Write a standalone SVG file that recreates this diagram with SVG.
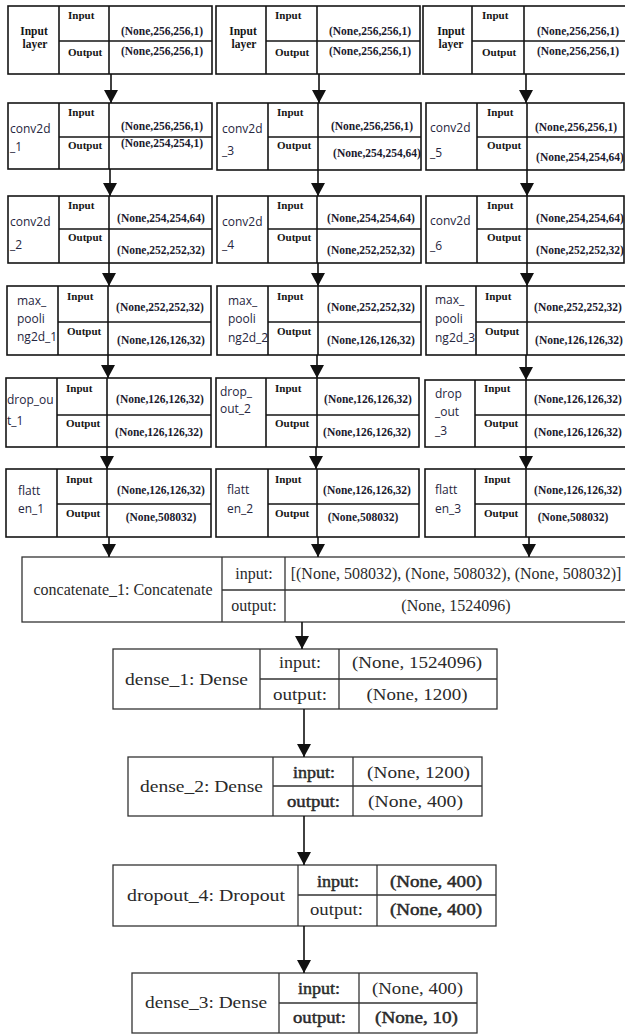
<svg xmlns="http://www.w3.org/2000/svg" width="625" height="1034" viewBox="0 0 625 1034">
  <defs>
    <marker id="ah" viewBox="0 0 13 14" markerWidth="13" markerHeight="14" refX="13" refY="7" orient="auto" markerUnits="userSpaceOnUse">
      <path d="M0,0 L13,7 L0,14 z" fill="#111"/>
    </marker>
    <style>
      .box { fill: #fff; stroke: #151515; stroke-width: 1.6; }
      .ln { stroke: #151515; stroke-width: 1.6; }
      .lab { font-family: "Liberation Serif", serif; font-weight: bold; font-size: 11px; fill: #151515; }
      .ttl { font-family: "Liberation Serif", serif; font-weight: bold; font-size: 11.5px; fill: #151515; text-anchor: middle; }
      .val { font-family: "Liberation Serif", serif; font-weight: bold; font-size: 11.5px; fill: #1a1a2e; text-anchor: middle; }
      .nm { font-family: "Open Sans", sans-serif; font-size: 12px; fill: #262640; }
      .bbox { fill: #fff; stroke: #333; stroke-width: 1.3; }
      .bln { stroke: #333; stroke-width: 1.3; }
      .big { font-family: "Liberation Serif", "Times New Roman", serif; font-size: 16px; fill: #2a2a2a; text-anchor: middle; }
      .semi { stroke: #2a2a2a; stroke-width: 0.45; }
      .conn { stroke: #111; stroke-width: 1.6; fill: none; marker-end: url(#ah); }
    </style>
  </defs>
  <rect width="625" height="1034" fill="#fff"/>

  <!-- ===== branch 1 ===== -->
  <g id="input_layer_1">
    <rect class="box" x="8" y="6" width="204" height="68"/>
    <line class="ln" x1="59" y1="6" x2="59" y2="74"/><line class="ln" x1="109" y1="6" x2="109" y2="74"/><line class="ln" x1="59" y1="41" x2="212" y2="41"/>
    <text class="ttl" x="34" y="35">Input</text><text class="ttl" x="35" y="48">layer</text>
    <text class="lab" x="68" y="19">Input</text><text class="lab" x="68" y="56">Output</text>
    <text class="val" x="162" y="35">(None,256,256,1)</text><text class="val" x="162" y="55">(None,256,256,1)</text>
  </g>
  <g id="conv2d_1">
    <rect class="box" x="8" y="103" width="204" height="66"/>
    <line class="ln" x1="59" y1="103" x2="59" y2="169"/><line class="ln" x1="109" y1="103" x2="109" y2="169"/><line class="ln" x1="59" y1="137" x2="212" y2="137"/>
    <text class="nm" x="10" y="133">conv2d</text><text class="nm" x="10" y="151">_1</text>
    <text class="lab" x="68" y="116">Input</text><text class="lab" x="68" y="149">Output</text>
    <text class="val" x="162" y="130">(None,256,256,1)</text><text class="val" x="162" y="147">(None,254,254,1)</text>
  </g>
  <g id="conv2d_2">
    <rect class="box" x="8" y="196" width="204" height="67"/>
    <line class="ln" x1="59" y1="196" x2="59" y2="263"/><line class="ln" x1="109" y1="196" x2="109" y2="263"/><line class="ln" x1="59" y1="229" x2="212" y2="229"/>
    <text class="nm" x="10" y="226">conv2d</text><text class="nm" x="10" y="249">_2</text>
    <text class="lab" x="68" y="209">Input</text><text class="lab" x="68" y="241">Output</text>
    <text class="val" x="161" y="222">(None,254,254,64)</text><text class="val" x="161" y="254">(None,252,252,32)</text>
  </g>
  <g id="max_pooling2d_1">
    <rect class="box" x="7" y="286" width="204" height="69"/>
    <line class="ln" x1="58" y1="286" x2="58" y2="355"/><line class="ln" x1="108" y1="286" x2="108" y2="355"/><line class="ln" x1="58" y1="322" x2="211" y2="322"/>
    <text class="nm" x="17" y="305">max_</text><text class="nm" x="17" y="323">pooli</text><text class="nm" x="17" y="341">ng2d_1</text>
    <text class="lab" x="67" y="300">Input</text><text class="lab" x="67" y="335">Output</text>
    <text class="val" x="160" y="311">(None,252,252,32)</text><text class="val" x="161" y="344">(None,126,126,32)</text>
  </g>
  <g id="drop_out_1">
    <rect class="box" x="6" y="378" width="205" height="69"/>
    <line class="ln" x1="57" y1="378" x2="57" y2="447"/><line class="ln" x1="107" y1="378" x2="107" y2="447"/><line class="ln" x1="57" y1="415" x2="211" y2="415"/>
    <text class="nm" x="7" y="404">drop_ou</text><text class="nm" x="7" y="425">t_1</text>
    <text class="lab" x="66" y="392">Input</text><text class="lab" x="66" y="427">Output</text>
    <text class="val" x="160" y="403">(None,126,126,32)</text><text class="val" x="159" y="436">(None,126,126,32)</text>
  </g>
  <g id="flatten_1">
    <rect class="box" x="6" y="469" width="205" height="68"/>
    <line class="ln" x1="57" y1="469" x2="57" y2="537"/><line class="ln" x1="107" y1="469" x2="107" y2="537"/><line class="ln" x1="57" y1="504" x2="211" y2="504"/>
    <text class="nm" x="18" y="495">flatt</text><text class="nm" x="18" y="513">en_1</text>
    <text class="lab" x="66" y="483">Input</text><text class="lab" x="66" y="517">Output</text>
    <text class="val" x="161" y="494">(None,126,126,32)</text><text class="val" x="161" y="521">(None,508032)</text>
  </g>

  <!-- ===== branch 2 ===== -->
  <g id="input_layer_2">
    <rect class="box" x="216" y="6" width="204" height="68"/>
    <line class="ln" x1="266" y1="6" x2="266" y2="74"/><line class="ln" x1="317" y1="6" x2="317" y2="74"/><line class="ln" x1="266" y1="41" x2="420" y2="41"/>
    <text class="ttl" x="243" y="35">Input</text><text class="ttl" x="244" y="48">layer</text>
    <text class="lab" x="275" y="19">Input</text><text class="lab" x="275" y="56">Output</text>
    <text class="val" x="370" y="35">(None,256,256,1)</text><text class="val" x="370" y="55">(None,256,256,1)</text>
  </g>
  <g id="conv2d_3">
    <rect class="box" x="217" y="103" width="204" height="67"/>
    <line class="ln" x1="268" y1="103" x2="268" y2="170"/><line class="ln" x1="318" y1="103" x2="318" y2="170"/><line class="ln" x1="268" y1="137" x2="421" y2="137"/>
    <text class="nm" x="222" y="133">conv2d</text><text class="nm" x="222" y="155">_3</text>
    <text class="lab" x="277" y="116">Input</text><text class="lab" x="277" y="149">Output</text>
    <text class="val" x="372" y="130">(None,256,256,1)</text><text class="val" x="377" y="157">(None,254,254,64)</text>
  </g>
  <g id="conv2d_4">
    <rect class="box" x="217" y="196" width="204" height="67"/>
    <line class="ln" x1="268" y1="196" x2="268" y2="263"/><line class="ln" x1="317" y1="196" x2="317" y2="263"/><line class="ln" x1="268" y1="229" x2="421" y2="229"/>
    <text class="nm" x="222" y="226">conv2d</text><text class="nm" x="222" y="249">_4</text>
    <text class="lab" x="277" y="209">Input</text><text class="lab" x="277" y="241">Output</text>
    <text class="val" x="371" y="222">(None,254,254,64)</text><text class="val" x="371" y="254">(None,252,252,32)</text>
  </g>
  <g id="max_pooling2d_2">
    <rect class="box" x="217" y="286" width="204" height="69"/>
    <line class="ln" x1="268" y1="286" x2="268" y2="355"/><line class="ln" x1="318" y1="286" x2="318" y2="355"/><line class="ln" x1="268" y1="322" x2="421" y2="322"/>
    <text class="nm" x="228" y="305">max_</text><text class="nm" x="228" y="323">pooli</text><text class="nm" x="228" y="342">ng2d_2</text>
    <text class="lab" x="277" y="300">Input</text><text class="lab" x="277" y="335">Output</text>
    <text class="val" x="371" y="311">(None,252,252,32)</text><text class="val" x="371" y="344">(None,126,126,32)</text>
  </g>
  <g id="drop_out_2">
    <rect class="box" x="216" y="378" width="203" height="69"/>
    <line class="ln" x1="266" y1="378" x2="266" y2="447"/><line class="ln" x1="317" y1="378" x2="317" y2="447"/><line class="ln" x1="266" y1="415" x2="419" y2="415"/>
    <text class="nm" x="220" y="396">drop_</text><text class="nm" x="220" y="413">out_2</text>
    <text class="lab" x="275" y="392">Input</text><text class="lab" x="275" y="427">Output</text>
    <text class="val" x="368" y="403">(None,126,126,32)</text><text class="val" x="367" y="436">(None,126,126,32)</text>
  </g>
  <g id="flatten_2">
    <rect class="box" x="216" y="469" width="203" height="68"/>
    <line class="ln" x1="268" y1="469" x2="268" y2="537"/><line class="ln" x1="317" y1="469" x2="317" y2="537"/><line class="ln" x1="268" y1="504" x2="419" y2="504"/>
    <text class="nm" x="227" y="494">flatt</text><text class="nm" x="227" y="513">en_2</text>
    <text class="lab" x="275" y="483">Input</text><text class="lab" x="275" y="517">Output</text>
    <text class="val" x="367" y="494">(None,126,126,32)</text><text class="val" x="363" y="521">(None,508032)</text>
  </g>

  <!-- ===== branch 3 ===== -->
  <g id="input_layer_3">
    <rect class="box" x="423" y="6" width="206" height="68"/>
    <line class="ln" x1="472" y1="6" x2="472" y2="74"/><line class="ln" x1="524" y1="6" x2="524" y2="74"/><line class="ln" x1="472" y1="41" x2="629" y2="41"/>
    <text class="ttl" x="451" y="35">Input</text><text class="ttl" x="451" y="48">layer</text>
    <text class="lab" x="482" y="19">Input</text><text class="lab" x="482" y="56">Output</text>
    <text class="val" x="578" y="35">(None,256,256,1)</text><text class="val" x="578" y="55">(None,256,256,1)</text>
  </g>
  <g id="conv2d_5">
    <rect class="box" x="426" y="103" width="198" height="67"/>
    <line class="ln" x1="477" y1="103" x2="477" y2="170"/><line class="ln" x1="527" y1="103" x2="527" y2="170"/><line class="ln" x1="477" y1="137" x2="624" y2="137"/>
    <text class="nm" x="430" y="132">conv2d</text><text class="nm" x="430" y="157">_5</text>
    <text class="lab" x="487" y="116">Input</text><text class="lab" x="487" y="149">Output</text>
    <text class="val" x="576" y="131">(None,256,256,1)</text><text class="val" x="580" y="161">(None,254,254,64)</text>
  </g>
  <g id="conv2d_6">
    <rect class="box" x="426" y="196" width="198" height="67"/>
    <line class="ln" x1="477" y1="196" x2="477" y2="263"/><line class="ln" x1="527" y1="196" x2="527" y2="263"/><line class="ln" x1="477" y1="229" x2="624" y2="229"/>
    <text class="nm" x="430" y="225">conv2d</text><text class="nm" x="430" y="250">_6</text>
    <text class="lab" x="487" y="209">Input</text><text class="lab" x="487" y="241">Output</text>
    <text class="val" x="580" y="222">(None,254,254,64)</text><text class="val" x="580" y="254">(None,252,252,32)</text>
  </g>
  <g id="max_pooling2d_3">
    <rect class="box" x="426" y="286" width="203" height="69"/>
    <line class="ln" x1="476" y1="286" x2="476" y2="355"/><line class="ln" x1="527" y1="286" x2="527" y2="355"/><line class="ln" x1="476" y1="322" x2="629" y2="322"/>
    <text class="nm" x="435" y="304">max_</text><text class="nm" x="435" y="323">pooli</text><text class="nm" x="435" y="342">ng2d_3</text>
    <text class="lab" x="485" y="300">Input</text><text class="lab" x="485" y="335">Output</text>
    <text class="val" x="578" y="311">(None,252,252,32)</text><text class="val" x="579" y="344">(None,126,126,32)</text>
  </g>
  <g id="drop_out_3">
    <rect class="box" x="425" y="380" width="204" height="67"/>
    <line class="ln" x1="475" y1="380" x2="475" y2="447"/><line class="ln" x1="526" y1="380" x2="526" y2="447"/><line class="ln" x1="475" y1="415" x2="629" y2="415"/>
    <text class="nm" x="435" y="398">drop</text><text class="nm" x="435" y="416">_out</text><text class="nm" x="435" y="435">_3</text>
    <text class="lab" x="484" y="392">Input</text><text class="lab" x="484" y="427">Output</text>
    <text class="val" x="578" y="403">(None,126,126,32)</text><text class="val" x="578" y="436">(None,126,126,32)</text>
  </g>
  <g id="flatten_3">
    <rect class="box" x="425" y="469" width="204" height="68"/>
    <line class="ln" x1="475" y1="469" x2="475" y2="537"/><line class="ln" x1="526" y1="469" x2="526" y2="537"/><line class="ln" x1="475" y1="504" x2="629" y2="504"/>
    <text class="nm" x="435" y="494">flatt</text><text class="nm" x="435" y="513">en_3</text>
    <text class="lab" x="484" y="483">Input</text><text class="lab" x="484" y="517">Output</text>
    <text class="val" x="578" y="494">(None,126,126,32)</text><text class="val" x="573" y="521">(None,508032)</text>
  </g>

  <!-- ===== merged head ===== -->
  <g id="concatenate_1">
    <rect class="bbox" x="22" y="557" width="620" height="65"/>
    <line class="bln" x1="222" y1="557" x2="222" y2="622"/><line class="bln" x1="285" y1="557" x2="285" y2="622"/><line class="bln" x1="222" y1="590" x2="642" y2="590"/>
    <text class="big" x="123" y="595">concatenate_1: Concatenate</text>
    <text class="big" x="254" y="579">input:</text><text class="big" x="254" y="611">output:</text>
    <text class="big" x="456" y="579">[(None, 508032), (None, 508032), (None, 508032)]</text>
    <text class="big" x="456" y="611">(None, 1524096)</text>
  </g>
  <g id="dense_1">
    <rect class="bbox" x="113" y="649" width="384" height="60"/>
    <line class="bln" x1="260" y1="649" x2="260" y2="709"/><line class="bln" x1="339" y1="649" x2="339" y2="709"/><line class="bln" x1="260" y1="679" x2="497" y2="679"/>
    <text class="big" x="186.5" y="685" textLength="123" lengthAdjust="spacingAndGlyphs">dense_1: Dense</text>
    <text class="big" x="300" y="668" textLength="42" lengthAdjust="spacingAndGlyphs">input:</text>
    <text class="big" x="300" y="700" textLength="54" lengthAdjust="spacingAndGlyphs">output:</text>
    <text class="big" x="417" y="668" textLength="130" lengthAdjust="spacingAndGlyphs">(None, 1524096)</text>
    <text class="big" x="417" y="700" textLength="101" lengthAdjust="spacingAndGlyphs">(None, 1200)</text>
  </g>
  <g id="dense_2">
    <rect class="bbox" x="128" y="757" width="354" height="59"/>
    <line class="bln" x1="273" y1="757" x2="273" y2="816"/><line class="bln" x1="353" y1="757" x2="353" y2="816"/><line class="bln" x1="273" y1="786" x2="482" y2="786"/>
    <text class="big" x="201.5" y="792" textLength="123" lengthAdjust="spacingAndGlyphs">dense_2: Dense</text>
    <text class="big semi" x="314" y="778" textLength="42" lengthAdjust="spacingAndGlyphs">input:</text>
    <text class="big semi" x="313.5" y="807" textLength="53" lengthAdjust="spacingAndGlyphs">output:</text>
    <text class="big" x="418.5" y="778" textLength="103" lengthAdjust="spacingAndGlyphs">(None, 1200)</text>
    <text class="big" x="415.5" y="807" textLength="95" lengthAdjust="spacingAndGlyphs">(None, 400)</text>
  </g>
  <g id="dropout_4">
    <rect class="bbox" x="113" y="865" width="383" height="61"/>
    <line class="bln" x1="298" y1="865" x2="298" y2="926"/><line class="bln" x1="377" y1="865" x2="377" y2="926"/><line class="bln" x1="298" y1="895" x2="496" y2="895"/>
    <text class="big" x="206" y="901" textLength="158" lengthAdjust="spacingAndGlyphs">dropout_4: Dropout</text>
    <text class="big semi" x="338" y="887" textLength="42" lengthAdjust="spacingAndGlyphs">input:</text>
    <text class="big" x="336.5" y="915" textLength="53" lengthAdjust="spacingAndGlyphs">output:</text>
    <text class="big semi" x="436" y="887" textLength="92" lengthAdjust="spacingAndGlyphs">(None, 400)</text>
    <text class="big semi" x="436" y="915" textLength="92" lengthAdjust="spacingAndGlyphs">(None, 400)</text>
  </g>
  <g id="dense_3">
    <rect class="bbox" x="132" y="973" width="345" height="60"/>
    <line class="bln" x1="279" y1="973" x2="279" y2="1033"/><line class="bln" x1="359" y1="973" x2="359" y2="1033"/><line class="bln" x1="279" y1="1003" x2="477" y2="1003"/>
    <text class="big" x="206" y="1008" textLength="122" lengthAdjust="spacingAndGlyphs">dense_3: Dense</text>
    <text class="big semi" x="319" y="994" textLength="42" lengthAdjust="spacingAndGlyphs">input:</text>
    <text class="big semi" x="319.5" y="1023" textLength="53" lengthAdjust="spacingAndGlyphs">output:</text>
    <text class="big" x="417.5" y="994" textLength="91" lengthAdjust="spacingAndGlyphs">(None, 400)</text>
    <text class="big semi" x="416.5" y="1023" textLength="83" lengthAdjust="spacingAndGlyphs">(None, 10)</text>
  </g>

  <!-- ===== connectors ===== -->
  <g id="connectors">
    <line class="conn" x1="111" y1="74" x2="111" y2="103"/>
    <line class="conn" x1="110" y1="169" x2="110" y2="196"/>
    <line class="conn" x1="109" y1="263" x2="109" y2="286"/>
    <line class="conn" x1="108" y1="355" x2="108" y2="378"/>
    <line class="conn" x1="107" y1="447" x2="107" y2="469"/>
    <line class="conn" x1="109" y1="537" x2="109" y2="557"/>

    <line class="conn" x1="319" y1="74" x2="319" y2="103"/>
    <line class="conn" x1="318" y1="170" x2="318" y2="196"/>
    <line class="conn" x1="318" y1="263" x2="318" y2="286"/>
    <line class="conn" x1="317" y1="355" x2="317" y2="378"/>
    <line class="conn" x1="316" y1="447" x2="316" y2="469"/>
    <line class="conn" x1="318" y1="537" x2="318" y2="557"/>

    <line class="conn" x1="526" y1="74" x2="526" y2="103"/>
    <line class="conn" x1="527" y1="170" x2="527" y2="196"/>
    <line class="conn" x1="527" y1="263" x2="527" y2="286"/>
    <line class="conn" x1="526" y1="355" x2="526" y2="380"/>
    <line class="conn" x1="526" y1="447" x2="526" y2="469"/>
    <line class="conn" x1="529" y1="537" x2="529" y2="557"/>

    <line class="conn" x1="302" y1="622" x2="302" y2="649"/>
    <line class="conn" x1="304" y1="709" x2="304" y2="757"/>
    <line class="conn" x1="304" y1="816" x2="304" y2="865"/>
    <line class="conn" x1="304" y1="926" x2="304" y2="973"/>
  </g>
</svg>
